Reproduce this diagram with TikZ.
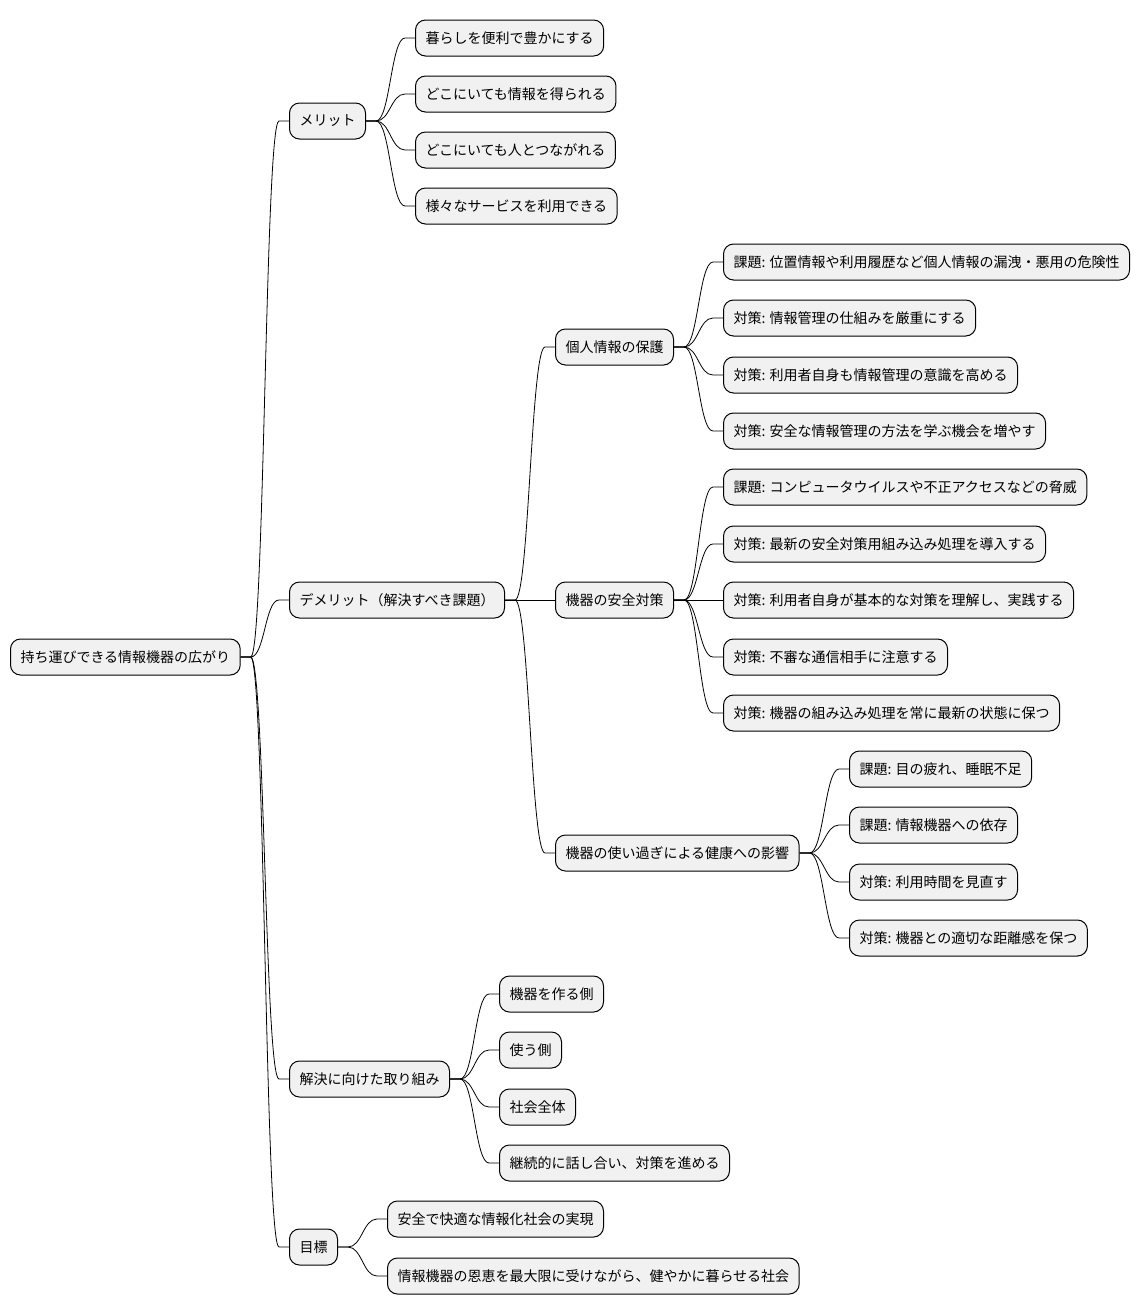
\documentclass[tikz,border=0pt]{standalone}
\usepackage{fontspec}
\setmainfont{Noto Sans CJK JP}
\definecolor{boxgray}{RGB}{241, 241, 241}
\usepackage{tikz}
\usetikzlibrary{positioning}

\begin{document}
\begin{tikzpicture}[x=0.75pt, y=-0.75pt,
    topic/.style={draw, fill=boxgray, line width=0.75pt, rounded corners=7.5pt,
        minimum height=27pt, inner xsep=7.5pt, anchor=west,
        font=\fontsize{10.5}{12}\selectfont},
    link/.style={line width=0.6pt}]
    \useasboundingbox (0,0) rectangle (1142,1315);

    % Root and first level
    \node[topic] (root) at (10,657) {持ち運びできる情報機器の広がり};
    \foreach \n/\y/\txt in {merit/121/{メリット}, demerit/600/{デメリット（解決すべき課題）},
                            effort/1079/{解決に向けた取り組み}, goal/1247/{目標}} {
        \node[topic] (\n) at (289,\y) {\txt};
        \draw[link] (root.east) -- ++(10,0) .. controls +(14,0) and +(-14,0)
            .. ([xshift=-7.5pt]\n.west) -- (\n.west);
    }

    % Merits
    \foreach \n/\y/\txt in {m1/38/{暮らしを便利で豊かにする}, m2/94/{どこにいても情報を得られる},
                            m3/150/{どこにいても人とつながれる}, m4/206/{様々なサービスを利用できる}} {
        \node[topic] (\n) at (415,\y) {\txt};
        \draw[link] (merit.east) -- ++(10,0) .. controls +(14,0) and +(-14,0)
            .. ([xshift=-7.5pt]\n.west) -- (\n.west);
    }

    % Demerits
    \foreach \n/\y/\txt in {privacy/347/{個人情報の保護}, security/600/{機器の安全対策},
                            health/853/{機器の使い過ぎによる健康への影響}} {
        \node[topic] (\n) at (555,\y) {\txt};
        \draw[link] (demerit.east) -- ++(10,0) .. controls +(14,0) and +(-14,0)
            .. ([xshift=-7.5pt]\n.west) -- (\n.west);
    }

    % Privacy
    \foreach \n/\y/\txt in {p1/262/{課題: 位置情報や利用履歴など個人情報の漏洩・悪用の危険性},
                            p2/318/{対策: 情報管理の仕組みを厳重にする},
                            p3/375/{対策: 利用者自身も情報管理の意識を高める},
                            p4/431/{対策: 安全な情報管理の方法を学ぶ機会を増やす}} {
        \node[topic] (\n) at (723,\y) {\txt};
        \draw[link] (privacy.east) -- ++(10,0) .. controls +(14,0) and +(-14,0)
            .. ([xshift=-7.5pt]\n.west) -- (\n.west);
    }

    % Security
    \foreach \n/\y/\txt in {s1/487/{課題: コンピュータウイルスや不正アクセスなどの脅威},
                            s2/544/{対策: 最新の安全対策用組み込み処理を導入する},
                            s3/600/{対策: 利用者自身が基本的な対策を理解し、実践する},
                            s4/657/{対策: 不審な通信相手に注意する},
                            s5/713/{対策: 機器の組み込み処理を常に最新の状態に保つ}} {
        \node[topic] (\n) at (723,\y) {\txt};
        \draw[link] (security.east) -- ++(10,0) .. controls +(14,0) and +(-14,0)
            .. ([xshift=-7.5pt]\n.west) -- (\n.west);
    }

    % Health
    \foreach \n/\y/\txt in {h1/769/{課題: 目の疲れ、睡眠不足}, h2/825/{課題: 情報機器への依存},
                            h3/882/{対策: 利用時間を見直す}, h4/938/{対策: 機器との適切な距離感を保つ}} {
        \node[topic] (\n) at (849,\y) {\txt};
        \draw[link] (health.east) -- ++(10,0) .. controls +(14,0) and +(-14,0)
            .. ([xshift=-7.5pt]\n.west) -- (\n.west);
    }

    % Efforts
    \foreach \n/\y/\txt in {e1/994/{機器を作る側}, e2/1050/{使う側}, e3/1107/{社会全体},
                            e4/1163/{継続的に話し合い、対策を進める}} {
        \node[topic] (\n) at (499,\y) {\txt};
        \draw[link] (effort.east) -- ++(10,0) .. controls +(14,0) and +(-14,0)
            .. ([xshift=-7.5pt]\n.west) -- (\n.west);
    }

    % Goals
    \foreach \n/\y/\txt in {g1/1219/{安全で快適な情報化社会の実現},
                            g2/1276/{情報機器の恩恵を最大限に受けながら、健やかに暮らせる社会}} {
        \node[topic] (\n) at (387,\y) {\txt};
        \draw[link] (goal.east) -- ++(10,0) .. controls +(14,0) and +(-14,0)
            .. ([xshift=-7.5pt]\n.west) -- (\n.west);
    }
\end{tikzpicture}
\end{document}
